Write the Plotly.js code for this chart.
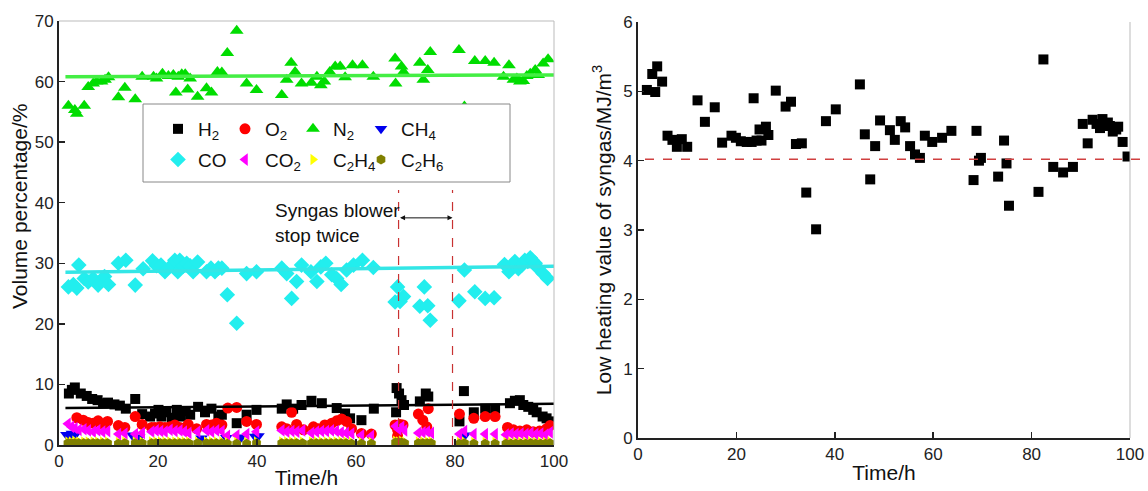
<!DOCTYPE html>
<html>
<head>
<meta charset="utf-8">
<script src="https://cdn.plot.ly/plotly-3.0.1.min.js"></script>
<style>
html,body{margin:0;padding:0;background:#fff;}
#chart{width:1148px;height:491px;}
</style>
</head>
<body>
<div id="chart"></div>
<script>
// ---------- Left panel data (Volume percentage / %) ----------
var h2T = [2.0,2.6,3.2,4.4,5.6,6.7,7.8,8.9,9.9,11.2,12.3,13.5,15.4,16.8,18.4,19.4,20.1,20.7,21.7,22.8,23.8,24.6,25.6,26.5,28.1,29.5,30.8,32.2,32.9,35.9,37.9,39.9,45.0,46.0,47.3,49.0,51.0,53.1,56.1,57.8,58.8,61.1,63.6,68.1,68.2,68.7,69.2,69.7,72.9,74.1,74.6,80.9,81.8,83.8,86.1,88.1,91.1,92.1,93.1,93.8,94.8,95.8,96.5,97.7,98.5,99.2];
var h2V = [8.5,9.1,9.5,8.5,8.1,7.6,7.4,6.9,7.0,6.7,6.5,6.0,7.6,5.1,4.7,5.2,5.8,4.7,5.4,4.5,5.8,4.7,5.6,5.0,6.3,5.4,6.0,4.7,5.0,3.6,5.0,5.8,6.0,6.7,6.0,6.6,7.3,6.9,6.1,5.2,4.4,4.1,6.0,5.4,9.4,8.5,7.4,6.6,7.2,8.5,8.0,3.9,8.9,5.4,6.0,6.0,6.9,7.3,7.4,6.6,6.3,5.8,5.4,4.7,4.4,3.9];

var o2T = [3.6,4.9,5.9,6.9,7.9,8.9,9.8,12.0,13.3,15.4,16.8,18.7,19.4,20.4,21.4,22.4,23.4,24.4,26.1,27.8,29.8,30.8,31.8,32.9,34.1,35.9,37.9,39.9,45.0,46.0,47.0,48.0,49.4,51.4,52.4,53.7,55.1,56.1,57.1,58.1,59.1,61.1,63.1,67.9,68.4,68.4,68.9,69.5,72.6,73.5,74.3,74.6,80.9,83.8,86.1,88.1,90.6,91.8,93.1,94.5,95.8,97.1,98.5,99.2];
var o2V = [4.5,4.1,3.7,3.6,4.0,3.4,3.9,3.2,2.9,4.7,3.4,2.9,2.9,3.0,2.9,3.0,3.3,2.9,3.4,2.7,3.4,3.3,3.6,3.3,6.1,6.2,3.9,3.4,3.0,2.7,5.4,3.4,2.5,3.0,2.7,3.3,3.6,4.0,4.3,3.9,2.7,1.9,1.8,3.3,2.5,1.5,3.4,3.3,5.1,4.1,3.0,6.0,5.1,4.4,4.7,4.7,2.9,2.5,2.3,2.5,2.2,2.3,2.7,3.2];

var n2T = [1.9,3.2,3.6,5.1,5.9,6.9,7.6,8.6,9.3,10.0,12.0,13.3,15.4,16.8,19.1,19.7,20.9,22.1,23.1,23.6,24.1,24.8,25.5,26.0,26.5,28.0,29.8,30.8,32.0,32.9,34.0,35.9,37.9,39.9,45.0,46.0,46.9,47.7,49.0,51.0,52.1,52.9,53.6,54.7,55.8,56.8,57.8,59.3,61.3,63.5,67.9,68.0,69.2,69.6,72.9,73.6,74.5,75.0,80.8,81.9,84.0,86.1,87.9,89.8,90.9,91.8,92.5,93.1,93.8,94.5,95.2,96.2,96.8,97.8,98.8];
var n2V = [56.0,55.3,54.7,56.0,59.1,59.7,60.0,60.0,60.3,60.7,57.4,59.0,57.1,60.8,60.8,60.5,61.3,60.9,61.1,58.2,60.8,61.2,61.2,58.7,60.5,57.5,58.9,58.2,61.6,61.5,64.7,68.4,59.7,58.6,57.8,60.3,63.1,61.6,59.7,59.8,60.8,59.4,60.0,61.6,62.5,62.5,60.7,62.7,62.7,60.8,63.8,59.7,62.5,61.6,63.1,60.3,61.9,64.9,65.2,55.9,63.4,63.4,63.1,60.8,62.7,60.3,60.5,60.0,60.1,60.9,61.3,61.9,61.1,63.0,63.7];

var ch4T = [1.5,2.0,2.6,3.2,14.8,16.2,28.8,33.8,36.8,39.6,40.3,82.0];
var ch4V = [1.7,1.5,1.9,1.6,1.6,1.3,1.1,1.2,1.3,1.4,1.5,1.6];

var coT = [1.9,2.9,3.6,4.0,5.1,5.9,6.9,7.9,8.6,9.2,10.0,12.0,13.5,15.4,17.0,18.9,19.7,20.6,21.4,22.8,23.4,24.0,24.4,25.1,25.8,26.5,27.1,28.0,29.8,30.7,31.5,32.2,32.9,34.0,35.9,37.9,39.9,45.0,46.0,47.0,48.0,49.0,50.9,52.1,52.9,53.9,55.1,56.1,57.0,58.1,59.5,61.3,63.5,67.9,68.4,68.9,69.6,72.9,73.8,74.5,75.0,80.8,81.9,84.0,86.1,87.9,90.0,90.9,92.1,92.8,93.5,94.1,94.7,95.2,95.6,96.2,96.8,97.8,98.7];
var coV = [26.1,26.5,25.9,29.7,27.5,26.9,27.5,26.4,27.1,27.8,26.5,30.0,30.5,26.4,29.1,30.4,29.6,29.7,28.6,29.7,30.5,28.6,30.5,29.5,30.0,29.6,28.6,30.2,28.6,29.2,28.6,29.2,29.2,24.8,20.1,28.3,28.6,29.2,28.3,24.2,27.0,29.7,28.6,27.0,29.4,30.0,28.1,27.5,26.5,28.9,29.7,30.5,29.3,23.6,26.1,23.7,24.5,22.9,26.1,23.0,20.6,23.8,28.9,25.3,24.2,24.3,29.8,28.6,30.3,29.1,29.7,30.5,30.3,30.9,30.5,30.0,29.2,28.3,27.5];

var co2T = [1.8,2.5,3.2,4.0,5.0,5.9,6.9,7.8,8.8,9.8,12.0,13.3,15.4,16.8,18.7,19.6,20.5,21.4,22.4,23.4,24.4,25.3,26.2,28.0,29.8,30.8,31.8,32.9,34.0,35.9,37.9,39.9,45.0,46.0,47.0,48.0,49.2,51.0,52.0,53.0,54.0,55.0,56.0,57.0,58.0,59.1,61.1,63.1,68.0,68.6,69.2,69.8,72.6,73.5,74.4,75.2,80.9,81.9,83.8,86.1,88.1,90.3,91.3,92.3,93.3,94.3,95.3,96.3,97.3,98.3,99.2];
var co2V = [3.5,3.0,2.8,2.5,2.6,2.4,2.2,2.4,2.2,2.3,1.8,1.9,1.8,2.0,2.2,2.4,2.3,2.2,2.5,2.3,2.4,2.2,2.0,2.2,2.4,2.2,2.4,2.3,1.5,1.6,1.8,2.2,2.4,2.2,2.3,2.2,2.4,2.0,2.2,2.3,2.3,2.4,2.3,2.1,2.0,1.9,1.6,1.5,3.1,2.6,3.0,2.4,2.0,2.1,2.2,2.0,1.8,2.3,1.8,1.8,1.8,1.7,1.9,1.8,1.9,1.8,2.0,1.8,1.9,1.7,2.1];

var c2T = co2T;
var c2h4V = [0.5,0.5,0.6,0.5,0.5,0.5,0.5,0.5,0.5,0.5,0.4,0.5,0.5,0.5,0.5,0.5,0.5,0.5,0.5,0.5,0.5,0.5,0.5,0.5,0.5,0.5,0.5,0.5,0.4,0.4,0.4,0.5,0.5,0.5,0.5,0.5,0.5,0.5,0.5,0.5,0.5,0.5,0.5,0.5,0.5,0.4,0.4,0.4,0.6,0.5,0.6,0.5,0.5,0.5,0.5,0.5,0.4,0.5,0.4,0.4,0.4,0.4,0.4,0.4,0.4,0.4,0.5,0.4,0.4,0.4,0.5];
var c2h6V = [0.3,0.3,0.3,0.3,0.3,0.3,0.3,0.3,0.3,0.3,0.2,0.3,0.3,0.3,0.3,0.3,0.3,0.3,0.3,0.3,0.3,0.3,0.3,0.3,0.3,0.3,0.3,0.3,0.2,0.2,0.2,0.3,0.3,0.3,0.3,0.3,0.3,0.3,0.3,0.3,0.3,0.3,0.3,0.3,0.3,0.2,0.2,0.2,0.4,0.4,0.4,0.3,0.3,0.3,0.3,0.3,0.2,0.3,0.2,0.2,0.2,0.2,0.2,0.2,0.2,0.2,0.3,0.2,0.2,0.2,0.3];

// trend lines (start/end)
var fitT = [1.3, 100];
var n2Fit = [60.8, 61.1];
var coFit = [28.5, 29.5];
var h2Fit = [6.1, 6.8];

// blower stop marks
var stopT = [68.6, 79.5];
var stopTop = 42.1;
var arrowY = 37.5;

// ---------- Right panel data (LHV) ----------
var lhvT = [1.8,2.9,3.5,3.9,4.9,6.0,7.0,7.9,8.9,10.0,12.1,13.6,15.6,17.1,19.0,19.9,20.9,22.1,23.1,23.5,24.1,24.7,25.1,26.0,26.5,28.0,30.0,31.1,32.1,33.3,34.2,36.2,38.2,40.2,45.1,46.1,47.2,48.2,49.2,51.2,52.2,53.4,54.3,55.3,56.3,57.3,58.3,59.8,61.8,63.7,68.2,68.8,69.3,69.7,73.2,74.4,74.9,75.4,81.4,82.4,84.4,86.4,88.4,90.4,91.4,92.4,93.2,93.9,94.4,94.9,95.5,95.9,96.5,97.2,97.6,98.5,99.5];
var lhvV = [5.02,5.25,4.99,5.36,5.14,4.36,4.30,4.20,4.31,4.20,4.87,4.56,4.77,4.26,4.36,4.33,4.28,4.27,4.27,4.90,4.29,4.45,4.29,4.49,4.37,5.01,4.78,4.85,4.24,4.25,3.54,3.01,4.57,4.74,5.10,4.38,3.73,4.21,4.58,4.44,4.30,4.57,4.48,4.21,4.09,4.04,4.36,4.27,4.33,4.43,3.72,4.43,4.00,4.04,3.77,4.29,3.96,3.35,3.55,5.46,3.91,3.83,3.91,4.53,4.25,4.59,4.53,4.47,4.60,4.53,4.55,4.50,4.42,4.45,4.49,4.27,4.06];
var lhvRef = 4.02;

var W = 1148, H = 491;
function px(x){return x/W;}
function py(y){return (H-y)/H;}

var L = {x0:59, x1:554, y0:21, y1:445};
var R = {x0:638, x1:1130, y0:22, y1:438};

var FF = 'Liberation Sans, Arial, sans-serif';
var tickFont = {family:FF, size:17, color:'#222'};
var titleFont = {family:FF, size:21, color:'#111'};

function mk(name, x, y, sym, col, size, lg){
  return {type:'scatter', mode:'markers', name:name, x:x, y:y, xaxis:'x', yaxis:'y',
    legend: lg, legendgroup: name, marker:{symbol:sym, color:col, size:size, line:{width:0}}};
}

var traces = [
  mk('H<sub>2</sub>', h2T, h2V, 'square', '#000000', 10, 'legend'),
  mk('O<sub>2</sub>', o2T, o2V, 'circle', '#ff0000', 11, 'legend2'),
  mk('N<sub>2</sub>', n2T, n2V, 'triangle-up', '#00dd00', 12, 'legend3'),
  mk('CH<sub>4</sub>', ch4T, ch4V, 'triangle-down', '#0000ee', 11, 'legend4'),
  mk('CO', coT, coV, 'diamond', '#22eeee', 12, 'legend'),
  mk('CO<sub>2</sub>', co2T, co2V, 'triangle-left', '#ff00ff', 11, 'legend2'),
  mk('C<sub>2</sub>H<sub>4</sub>', c2T, c2h4V, 'triangle-right', '#ffff00', 10, 'legend3'),
  mk('C<sub>2</sub>H<sub>6</sub>', c2T, c2h6V, 'hexagon', '#808000', 10, 'legend4'),
  {type:'scatter', mode:'lines', x:fitT, y:n2Fit, line:{color:'#44ee44', width:3.5}, showlegend:false, hoverinfo:'skip'},
  {type:'scatter', mode:'lines', x:fitT, y:coFit, line:{color:'#33e6e6', width:3.5}, showlegend:false, hoverinfo:'skip'},
  {type:'scatter', mode:'lines', x:fitT, y:h2Fit, line:{color:'#000000', width:2.5}, showlegend:false, hoverinfo:'skip'},
  {type:'scatter', mode:'markers', x:lhvT, y:lhvV, xaxis:'x2', yaxis:'y2', showlegend:false,
    marker:{symbol:'square', color:'#000000', size:10, line:{width:0}}}
];

var axisCommon = {
  showgrid:false, zeroline:false, showline:true, linecolor:'#222', linewidth:2,
  ticks:'inside', ticklen:6, tickwidth:1.5, tickcolor:'#222', tickfont:tickFont,
  automargin:false, fixedrange:true
};

var shapes = [
  {type:'line', xref:'paper', yref:'paper', x0:px(L.x0), x1:px(L.x1), y0:py(L.y0), y1:py(L.y0), line:{color:'#bbbbbb', width:1}},
  {type:'line', xref:'paper', yref:'paper', x0:px(L.x1), x1:px(L.x1), y0:py(L.y0), y1:py(L.y1), line:{color:'#bbbbbb', width:1}},
  {type:'line', xref:'paper', yref:'paper', x0:px(R.x1), x1:px(R.x1), y0:py(R.y0), y1:py(R.y1), line:{color:'#bbbbbb', width:1}},
  {type:'line', xref:'x', yref:'y', x0:stopT[0], x1:stopT[0], y0:0, y1:stopTop, line:{color:'#c83232', width:1.2, dash:'dash'}},
  {type:'line', xref:'x', yref:'y', x0:stopT[1], x1:stopT[1], y0:0, y1:stopTop, line:{color:'#c83232', width:1.2, dash:'dash'}},
  {type:'line', xref:'paper', yref:'y2', x0:px(645), x1:1, y0:lhvRef, y1:lhvRef, line:{color:'#d04040', width:1.5, dash:'dash'}},
  {type:'rect', xref:'paper', yref:'paper', x0:px(143), x1:px(510), y0:py(182), y1:py(104), fillcolor:'#ffffff', line:{color:'#888888', width:1}, layer:'above'}
];

var legFont = {family:FF, size:19, color:'#111'};
function leg(xpx){
  return {orientation:'v', x:px(xpx), y:py(110), xanchor:'left', yanchor:'top', bgcolor:'rgba(0,0,0,0)',
    borderwidth:0, font:legFont, traceorder:'grouped', tracegroupgap:3, itemclick:false, itemdoubleclick:false};
}

var layout = {
  width:W, height:H,
  margin:{l:0, r:0, t:0, b:0},
  paper_bgcolor:'#ffffff', plot_bgcolor:'#ffffff',
  showlegend:true,
  xaxis: Object.assign({}, axisCommon, {domain:[px(L.x0), px(L.x1)], range:[0,100], dtick:20, tick0:0, anchor:'y',
    title:{text:'Time/h', font:titleFont, standoff:0}}),
  yaxis: Object.assign({}, axisCommon, {domain:[py(L.y1), py(L.y0)], range:[0,70], dtick:10, tick0:0, anchor:'x'}),
  xaxis2: Object.assign({}, axisCommon, {domain:[px(R.x0), px(R.x1)], range:[0,100], dtick:20, tick0:0, anchor:'y2',
    title:{text:'Time/h', font:titleFont, standoff:2}}),
  yaxis2: Object.assign({}, axisCommon, {domain:[py(R.y1), py(R.y0)], range:[0,6], dtick:1, tick0:0, anchor:'x2',
    title:{text:'Low heating value of syngas/MJ/m<sup>3</sup>', font:titleFont, standoff:6}}),
  legend: leg(158),
  legend2: leg(225),
  legend3: leg(293),
  legend4: leg(361),
  shapes: shapes,
  annotations:[
    {xref:'paper', yref:'paper', x:px(19), y:py(207), xanchor:'center', yanchor:'middle', textangle:-90, showarrow:false,
      text:'Volume percentage/%', font:titleFont},
    {xref:'x', yref:'y', x:43.3, y:36.6, xanchor:'left', yanchor:'middle', align:'left', showarrow:false,
      text:'Syngas blower<br>stop twice', font:{family:FF, size:19, color:'#111'}},
    {xref:'x', yref:'y', x:stopT[1], y:arrowY, axref:'x', ayref:'y', ax:stopT[0], ay:arrowY, text:'',
      showarrow:true, arrowside:'end+start', arrowhead:2, arrowsize:1, arrowwidth:1, arrowcolor:'#111', standoff:0, startstandoff:0}
  ]
};

Plotly.newPlot('chart', traces, layout, {staticPlot:true, displayModeBar:false});
</script>
</body>
</html>
